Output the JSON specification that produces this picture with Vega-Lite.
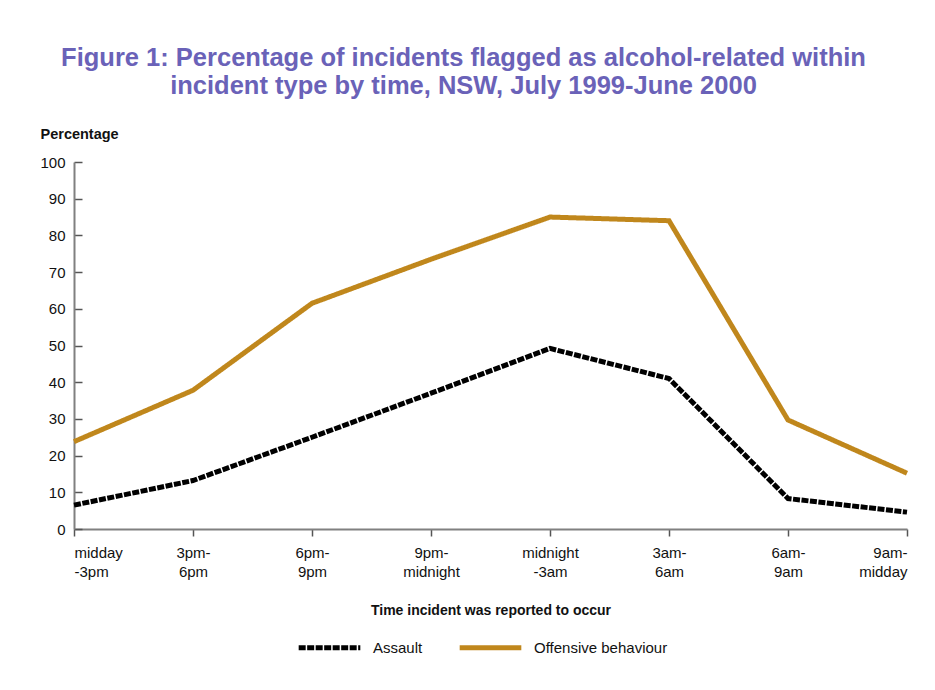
{
  "$schema": "https://vega.github.io/schema/vega-lite/v6.json",
  "autosize": {"type": "none"},
  "padding": {"left": 74, "top": 162, "right": 28, "bottom": 161},
  "width": 833,
  "height": 367,
  "background": "white",
  "title": {
    "text": ["Figure 1: Percentage of incidents flagged as alcohol-related within", "incident type by time, NSW, July 1999-June 2000"],
    "font": "Liberation Sans",
    "fontSize": 25.5,
    "fontWeight": "bold",
    "color": "#6a62b8",
    "anchor": "middle",
    "dx": -27,
    "offset": 27,
    "lineHeight": 28
  },
  "data": {
    "values": [
      {"time": "midday -3pm", "series": "Assault", "pct": 6.5},
      {"time": "3pm- 6pm", "series": "Assault", "pct": 13.2},
      {"time": "6pm- 9pm", "series": "Assault", "pct": 25},
      {"time": "9pm- midnight", "series": "Assault", "pct": 37},
      {"time": "midnight -3am", "series": "Assault", "pct": 49.2},
      {"time": "3am- 6am", "series": "Assault", "pct": 41},
      {"time": "6am- 9am", "series": "Assault", "pct": 8.3},
      {"time": "9am- midday", "series": "Assault", "pct": 4.6},
      {"time": "midday -3pm", "series": "Offensive behaviour", "pct": 23.8},
      {"time": "3pm- 6pm", "series": "Offensive behaviour", "pct": 37.8},
      {"time": "6pm- 9pm", "series": "Offensive behaviour", "pct": 61.5},
      {"time": "9pm- midnight", "series": "Offensive behaviour", "pct": 73.5},
      {"time": "midnight -3am", "series": "Offensive behaviour", "pct": 85},
      {"time": "3am- 6am", "series": "Offensive behaviour", "pct": 84},
      {"time": "6am- 9am", "series": "Offensive behaviour", "pct": 29.7},
      {"time": "9am- midday", "series": "Offensive behaviour", "pct": 15.2}
    ]
  },
  "mark": {"type": "line", "strokeWidth": 5, "strokeCap": "butt"},
  "encoding": {
    "x": {
      "field": "time",
      "type": "ordinal",
      "sort": null,
      "scale": {"type": "point", "padding": 0},
      "axis": {
        "title": "Time incident was reported to occur",
        "titleFont": "Liberation Sans",
        "titleFontSize": 14,
        "titleFontWeight": "bold",
        "titleColor": "#111",
        "titleY": 85,
        "titleBaseline": "alphabetic",
        "labelAngle": 0,
        "labelFlush": true,
        "labelExpr": "split(datum.label, ' ')",
        "labelFont": "Liberation Sans",
        "labelFontSize": 15,
        "labelColor": "#111",
        "labelLineHeight": 19,
        "labelPadding": 9,
        "labelBaseline": "top",
        "tickSize": 7,
        "tickColor": "#555",
        "tickWidth": 1.5,
        "domainColor": "#808080",
        "domainWidth": 2,
        "grid": false
      }
    },
    "y": {
      "field": "pct",
      "type": "quantitative",
      "scale": {"domain": [0, 100], "nice": false},
      "axis": {
        "title": "Percentage",
        "titleAngle": 0,
        "titleX": -34,
        "titleY": -24,
        "titleAlign": "left",
        "titleBaseline": "alphabetic",
        "titleFont": "Liberation Sans",
        "titleFontSize": 14.5,
        "titleFontWeight": "bold",
        "titleColor": "#111",
        "values": [0, 10, 20, 30, 40, 50, 60, 70, 80, 90, 100],
        "labelFont": "Liberation Sans",
        "labelFontSize": 15,
        "labelColor": "#111",
        "labelPadding": 17,
        "tickSize": -8,
        "tickColor": "#555",
        "tickWidth": 1.5,
        "domainColor": "#808080",
        "domainWidth": 2,
        "grid": false
      }
    },
    "color": {
      "field": "series",
      "type": "nominal",
      "scale": {"domain": ["Assault", "Offensive behaviour"], "range": ["#000000", "#c0871c"]},
      "legend": {
        "title": null,
        "orient": "none",
        "legendX": 222,
        "legendY": 452,
        "direction": "horizontal",
        "symbolType": "stroke",
        "symbolSize": 3800,
        "symbolStrokeWidth": 5,
        "labelFont": "Liberation Sans",
        "labelFontSize": 15,
        "labelColor": "#111",
        "labelOffset": 10,
        "columnPadding": 26
      }
    },
    "strokeDash": {
      "field": "series",
      "type": "nominal",
      "scale": {"domain": ["Assault", "Offensive behaviour"], "range": [[7, 1.5], [1, 0]]},
      "legend": null
    }
  },
  "config": {"view": {"stroke": null}}
}
